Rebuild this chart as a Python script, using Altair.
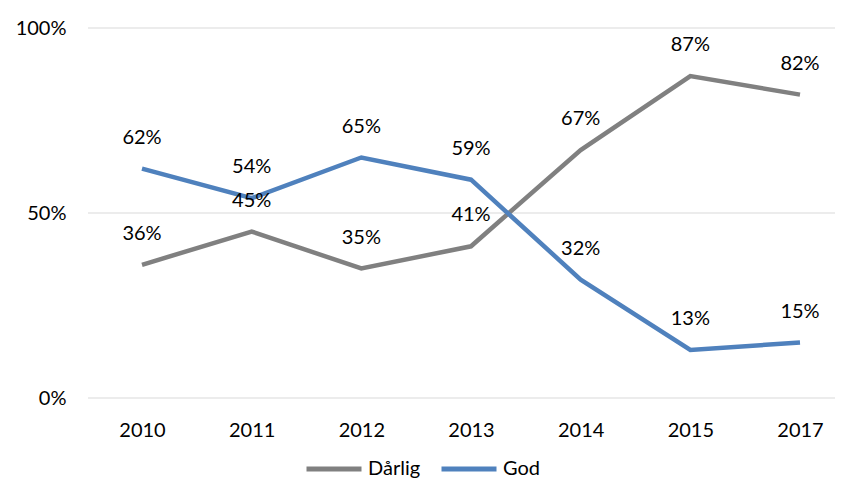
import altair as alt
import pandas as pd

years = ["2010", "2011", "2012", "2013", "2014", "2015", "2017"]
darlig = [36, 45, 35, 41, 67, 87, 82]
god = [62, 54, 65, 59, 32, 13, 15]
series = ["Dårlig", "God"]
colors = ["#808080", "#4F81BD"]
grid_values = [0, 0.5, 1]

rows = []
for y, v in zip(years, darlig):
    rows.append({"year": y, "value": v / 100, "series": "Dårlig", "label": f"{v}%"})
for y, v in zip(years, god):
    rows.append({"year": y, "value": v / 100, "series": "God", "label": f"{v}%"})
df = pd.DataFrame(rows)
grid_df = pd.DataFrame({"value": grid_values})

FONT = "Lato"
FS = 20
xscale = alt.Scale(type="point", range=[54, 712], padding=0)
yscale = alt.Scale(domain=[0, 1])

x = alt.X("year:N", sort=years, title=None, scale=xscale,
          axis=alt.Axis(labelAngle=0, domain=False, ticks=False, labelPadding=22,
                        labelFontSize=FS, labelFont=FONT, labelColor="#000000", grid=False))
y = alt.Y("value:Q", title=None, scale=yscale,
          axis=alt.Axis(values=grid_values, format=".0%", domain=False, ticks=False,
                        labelPadding=22, labelFontSize=FS, labelFont=FONT,
                        labelColor="#000000", grid=False))
color = alt.Color("series:N", scale=alt.Scale(domain=series, range=colors),
                  legend=alt.Legend(title=None, orient="none", direction="horizontal",
                                    legendX=216, legendY=411,
                                    symbolType="stroke", symbolSize=3025,
                                    symbolStrokeWidth=5, labelFontSize=FS,
                                    labelFont=FONT, labelColor="#000000",
                                    labelOffset=4, columnPadding=10))

grid = alt.Chart(grid_df).mark_rule(color="#D9D9D9", strokeWidth=1.2).encode(
    y=alt.Y("value:Q", scale=yscale), x=alt.value(0), x2=alt.value(747))
lines = alt.Chart(df).mark_line(strokeWidth=4.5).encode(x=x, y=y, color=color)
labels = alt.Chart(df).mark_text(dy=-31, fontSize=FS, font=FONT, color="#000000",
                                 baseline="middle").encode(
    x=alt.X("year:N", sort=years, scale=xscale),
    y=alt.Y("value:Q", scale=yscale),
    text="label:N")

chart = alt.layer(grid, lines, labels).properties(
    width=747, height=370,
    autosize=alt.AutoSizeParams(type="none"),
    padding={"left": 80, "top": 20, "right": 0, "bottom": 80},
).configure_view(stroke=None)

chart.save("out.html", embed_options={"renderer": "svg", "actions": False})
